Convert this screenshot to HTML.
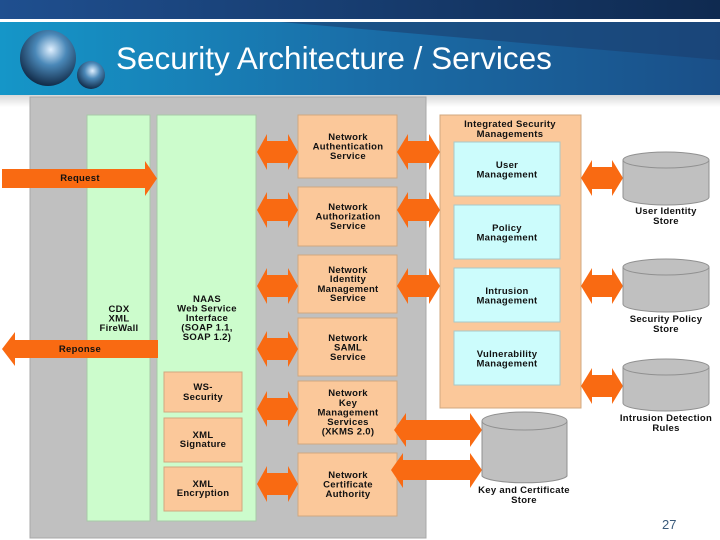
<!DOCTYPE html>
<html><head><meta charset="utf-8"><style>
html,body{margin:0;padding:0;width:720px;height:540px;overflow:hidden;background:#fff}
svg text{font-family:"Liberation Sans",sans-serif}
</style></head><body>
<svg width="720" height="540" viewBox="0 0 720 540" xmlns="http://www.w3.org/2000/svg">
<defs>
<linearGradient id="top" x1="0" x2="1" y1="0" y2="0"><stop offset="0" stop-color="#1f4f8f"/><stop offset="1" stop-color="#0f2a50"/></linearGradient>
<linearGradient id="band" x1="0" x2="1" y1="0" y2="0"><stop offset="0" stop-color="#1596c8"/><stop offset="0.5" stop-color="#1a6ea8"/><stop offset="1" stop-color="#1a4f88"/></linearGradient>
<linearGradient id="sh" x1="0" x2="0" y1="0" y2="1"><stop offset="0" stop-color="#d8d8d8"/><stop offset="1" stop-color="#fff"/></linearGradient>
<radialGradient id="ball" cx="0.55" cy="0.35" r="0.7"><stop offset="0" stop-color="#e0f0ff"/><stop offset="0.4" stop-color="#4a88b8"/><stop offset="1" stop-color="#0a1f3a"/></radialGradient>
</defs>
<rect x="0" y="0" width="720" height="19" fill="url(#top)"/>
<rect x="0" y="19" width="720" height="3" fill="#fff"/>
<rect x="0" y="22" width="720" height="73" fill="url(#band)"/>
<polygon points="280,22 720,22 720,60" fill="#1a3f70" opacity="0.6"/>
<rect x="0" y="95" width="720" height="12" fill="url(#sh)"/>
<circle cx="48" cy="58" r="28" fill="url(#ball)"/>
<circle cx="91" cy="75" r="14" fill="url(#ball)"/>
<text x="116" y="69" font-size="31.5" fill="#fff">Security Architecture / Services</text>

<rect x="30" y="97" width="396" height="441" fill="#c0c0c0" stroke="#a8a8a8"/>
<rect x="87" y="115" width="63" height="406" fill="#ccfccc" stroke="#a8c8a8"/>
<rect x="157" y="115" width="99" height="406" fill="#ccfccc" stroke="#a8c8a8"/>
<g fill="#fbc89a" stroke="#d0a880">
<rect x="164" y="372" width="78" height="40"/>
<rect x="164" y="418" width="78" height="44"/>
<rect x="164" y="467" width="78" height="44"/>
<rect x="298" y="115" width="99" height="63"/>
<rect x="298" y="187" width="99" height="59"/>
<rect x="298" y="255" width="99" height="58"/>
<rect x="298" y="318" width="99" height="58"/>
<rect x="298" y="381" width="99" height="63"/>
<rect x="298" y="453" width="99" height="63"/>
<rect x="440" y="115" width="141" height="293"/>
</g>
<g fill="#ccfcfc" stroke="#a8c8c8">
<rect x="454" y="142" width="106" height="54"/>
<rect x="454" y="205" width="106" height="54"/>
<rect x="454" y="268" width="106" height="54"/>
<rect x="454" y="331" width="106" height="54"/>
</g>
<g fill="#f96a12">
<polygon points="2,169 145,169 145,161 157,178.5 145,196 145,188 2,188"/>
<polygon points="158,340 15,340 15,332 2,349 15,366 15,358 158,358"/>
<g id="da"><polygon points="257,152 267,134 267,141 288,141 288,134 298,152 288,170 288,163 267,163 267,170"/></g>
<use href="#da" transform="translate(0,58)"/>
<use href="#da" transform="translate(0,134)"/>
<use href="#da" transform="translate(0,197)"/>
<use href="#da" transform="translate(0,257)"/>
<use href="#da" transform="translate(0,332)"/>
<g id="db"><polygon points="397,152 408,134 408,141 429,141 429,134 440,152 429,170 429,163 408,163 408,170"/></g>
<use href="#db" transform="translate(0,58)"/>
<use href="#db" transform="translate(0,134)"/>
<g id="dc"><polygon points="581,178 592,160 592,167 612,167 612,160 623,178 612,196 612,189 592,189 592,196"/></g>
<use href="#dc" transform="translate(0,108)"/>
<use href="#dc" transform="translate(0,208)"/>
<polygon points="394,430 406,413 406,420 470,420 470,413 482,430 470,447 470,440 406,440 406,447"/>
<polygon points="391,470 403,453 403,460 470,460 470,453 482,470 470,488 470,480 403,480 403,488"/>
</g>
<g fill="#c0c0c0" stroke="#909090">
<path d="M623,160 v37 a43,8 0 0 0 86,0 v-37"/><ellipse cx="666" cy="160" rx="43" ry="8"/>
<path d="M623,267 v37 a43,8 0 0 0 86,0 v-37"/><ellipse cx="666" cy="267" rx="43" ry="8"/>
<path d="M623,367 v36 a43,8 0 0 0 86,0 v-36"/><ellipse cx="666" cy="367" rx="43" ry="8"/>
<path d="M482,421 v55 a43,8 0 0 0 85,0 v-55"/><ellipse cx="524.5" cy="421" rx="42.5" ry="9"/>
</g>
<g font-size="9.5" font-weight="bold" fill="#111" text-anchor="middle" letter-spacing="0.3">
<text x="80" y="181">Request</text>
<text x="80" y="352">Reponse</text>
<text x="119" y="312">CDX</text><text x="119" y="321.5">XML</text><text x="119" y="331">FireWall</text>
<text x="207" y="302">NAAS</text><text x="207" y="311.5">Web Service</text><text x="207" y="321">Interface</text><text x="207" y="330.5">(SOAP 1.1,</text><text x="207" y="340">SOAP 1.2)</text>
<text x="203" y="390">WS-</text><text x="203" y="400">Security</text>
<text x="203" y="438">XML</text><text x="203" y="447">Signature</text>
<text x="203" y="487">XML</text><text x="203" y="496">Encryption</text>
<text x="348" y="140">Network</text><text x="348" y="149.5">Authentication</text><text x="348" y="159">Service</text>
<text x="348" y="210">Network</text><text x="348" y="219.5">Authorization</text><text x="348" y="229">Service</text>
<text x="348" y="273">Network</text><text x="348" y="282">Identity</text><text x="348" y="292">Management</text><text x="348" y="301">Service</text>
<text x="348" y="341">Network</text><text x="348" y="350.5">SAML</text><text x="348" y="360">Service</text>
<text x="348" y="396">Network</text><text x="348" y="406">Key</text><text x="348" y="415.5">Management</text><text x="348" y="425">Services</text><text x="348" y="434.5">(XKMS 2.0)</text>
<text x="348" y="478">Network</text><text x="348" y="487.5">Certificate</text><text x="348" y="497">Authority</text>
<text x="510" y="127">Integrated Security</text><text x="510" y="137">Managements</text>
<text x="507" y="168">User</text><text x="507" y="177.5">Management</text>
<text x="507" y="231">Policy</text><text x="507" y="240.5">Management</text>
<text x="507" y="294">Intrusion</text><text x="507" y="303.5">Management</text>
<text x="507" y="357">Vulnerability</text><text x="507" y="366.5">Management</text>
<text x="666" y="214">User Identity</text><text x="666" y="224">Store</text>
<text x="666" y="322">Security Policy</text><text x="666" y="332">Store</text>
<text x="666" y="421">Intrusion Detection</text><text x="666" y="431">Rules</text>
<text x="524" y="493">Key and Certificate</text><text x="524" y="503">Store</text>
</g>
<text x="662" y="529" font-size="13" fill="#3a5a7a">27</text>
</svg>
</body></html>
